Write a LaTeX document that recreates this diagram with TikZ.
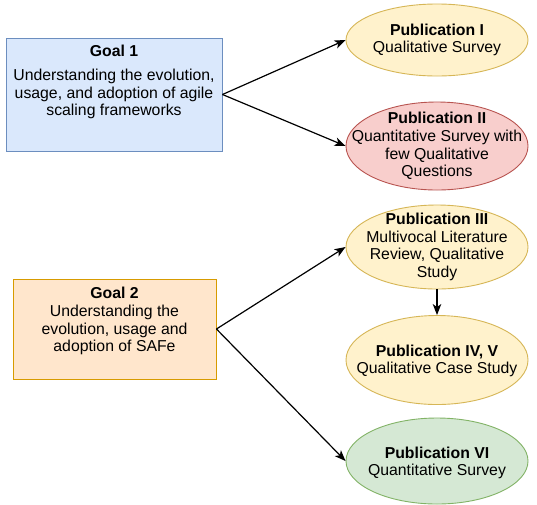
\documentclass[tikz,border=0pt]{standalone}
\usepackage{fontspec}
\setmainfont{Liberation Sans}
\usetikzlibrary{shapes.geometric,arrows.meta}
\definecolor{bluef}{HTML}{DAE8FC}
\definecolor{blued}{HTML}{6C8EBF}
\definecolor{orangef}{HTML}{FFE6CC}
\definecolor{oranged}{HTML}{D79B00}
\definecolor{yellowf}{HTML}{FFF2CC}
\definecolor{yellowd}{HTML}{D6B656}
\definecolor{redf}{HTML}{F8CECC}
\definecolor{redd}{HTML}{B85450}
\definecolor{greenf}{HTML}{D5E8D4}
\definecolor{greend}{HTML}{82B366}
\begin{document}
\begin{tikzpicture}[x=1pt,y=-1pt,
  goalbox/.style={draw, rectangle, line width=0.9pt, inner sep=0pt},
  pub/.style={draw, ellipse, line width=0.9pt, inner sep=0pt, minimum width=182pt},
  txt/.style={align=center, font=\fontsize{15.8}{17.7}\selectfont, inner sep=0pt},
  arr/.style={-{Stealth[length=11pt,width=8.5pt,inset=3pt]}, line width=1.2pt}]
\useasboundingbox[fill=white] (0,0) rectangle (537,504);
% goals
\node[goalbox, fill=bluef, draw=blued, minimum width=216pt, minimum height=113pt] (g1) at (114,94.5) {};
\node[txt] (g1h) at (114,51) {\textbf{Goal 1}};
\node[txt] (g1t) at (114,94) {Understanding the evolution,\\usage, and adoption of agile\\scaling frameworks};
\node[goalbox, fill=orangef, draw=oranged, minimum width=203pt, minimum height=100pt] (g2) at (114.5,329) {};
\node[txt] (g2h) at (114.5,293) {\textbf{Goal 2}};
\node[txt] (g2t) at (114.5,330) {Understanding the\\evolution, usage and\\adoption of SAFe};
% publications
\node[pub, fill=yellowf, draw=yellowd, minimum height=72pt] (p1) at (437,40) {};
\node[txt] (p1t) at (p1) {\textbf{Publication I}\\Qualitative Survey};
\node[pub, fill=redf, draw=redd, minimum height=88pt] (p2) at (437,146) {};
\node[txt] (p2t) at (p2) {\textbf{Publication II}\\Quantitative Survey with\\few Qualitative\\Questions};
\node[pub, fill=yellowf, draw=yellowd, minimum height=84pt] (p3) at (437,247) {};
\node[txt] (p3t) at (p3) {\textbf{Publication III}\\Multivocal Literature\\Review, Qualitative\\Study};
\node[pub, fill=yellowf, draw=yellowd, minimum height=89pt] (p4) at (437,360) {};
\node[txt] (p4t) at (437,361) {\textbf{Publication IV, V}\\Qualitative Case Study};
\node[pub, fill=greenf, draw=greend, minimum height=86pt] (p6) at (437,461) {};
\node[txt] (p6t) at (437,463) {\textbf{Publication VI}\\Quantitative Survey};
% connectors
\draw[arr] (g1.east) -- (p1.west);
\draw[arr] (g1.east) -- (p2.west);
\draw[arr] (g2.east) -- (p3.west);
\draw[arr] (g2.east) -- (p6.west);
\draw[arr] (p3.south) -- (p4.north);
\end{tikzpicture}
\end{document}
